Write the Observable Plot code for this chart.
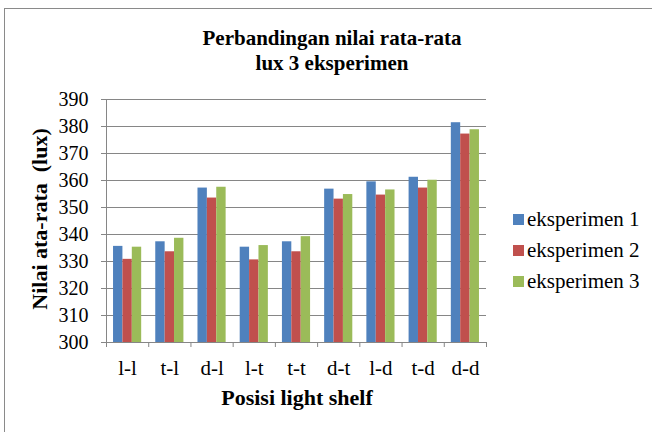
<!DOCTYPE html>
<html><head><meta charset="utf-8">
<script src="https://cdn.jsdelivr.net/npm/d3@7"></script>
<script src="https://cdn.jsdelivr.net/npm/@observablehq/plot@0.6"></script>
<style>
body{margin:0;background:#fff;}
#wrap{position:relative;width:652px;height:432px;overflow:hidden;font-family:"Liberation Serif","Times New Roman",serif;color:#000;}
#box{position:absolute;left:4px;top:8px;width:700px;height:500px;border:1px solid #8a8a8a;box-sizing:border-box;}
#chart{position:absolute;left:0;top:0;}
#title{position:absolute;left:0;width:664px;top:26px;text-align:center;font-weight:bold;font-size:21px;line-height:25px;}
#ylab{position:absolute;left:40px;top:219px;transform:translate(-50%,-50%) rotate(-90deg);white-space:nowrap;font-weight:bold;font-size:22px;}
#xlab{position:absolute;left:297px;top:398px;transform:translate(-50%,-50%);white-space:nowrap;font-weight:bold;font-size:22px;}
#legend{position:absolute;left:513px;top:204px;font-size:21px;}
.li{display:flex;align-items:center;height:31px;}
.sw{width:11px;height:11px;margin-right:3px;}
</style></head>
<body>
<div id="wrap">
  <div id="box"></div>
  <div id="chart"></div>
  <div id="title">Perbandingan nilai rata-rata<br>lux 3 eksperimen</div>
  <div id="ylab">Nilai ata-rata&nbsp; (lux)</div>
  <div id="xlab">Posisi light shelf</div>
  <div id="legend"></div>
</div>
<script>
const categories = ["l-l","t-l","d-l","l-t","t-t","d-t","l-d","t-d","d-d"];
const seriesNames = ["eksperimen 1","eksperimen 2","eksperimen 3"];
const eksperimen1 = [335.6,337.3,357.2,335.3,337.3,356.8,359.5,361.2,381.4];
const eksperimen2 = [330.8,333.6,353.5,330.6,333.6,353.1,354.6,357.2,377.2];
const eksperimen3 = [335.3,338.6,357.5,335.9,339.2,354.8,356.5,360.1,378.8];
const yTicks = [300,310,320,330,340,350,360,370,380,390];
const colors = ["#4F81BD","#C0504D","#9BBB59"];

const W = 652, H = 432, mL = 106, mR = 166, mT = 99, mB = 90;
const bw = (W - mL - mR) / categories.length;
const barW = bw / 4.5;
const inset = (bw - barW) / 2;

const seriesVals = [eksperimen1, eksperimen2, eksperimen3];
const barMarks = seriesVals.map((vals, s) =>
  Plot.barY(categories.map((c, i) => ({pos: c, v: vals[i]})), {
    x: "pos", y1: 300, y2: "v", fill: colors[s],
    insetLeft: inset, insetRight: inset, dx: (s - 1) * barW
  })
);

const plot = Plot.plot({
  width: W, height: H,
  marginLeft: mL, marginRight: mR, marginTop: mT, marginBottom: mB,
  style: {fontFamily: '"Liberation Serif","Times New Roman",serif', background: "transparent", color: "#000"},
  x: {domain: categories, padding: 0, round: false, label: null},
  y: {domain: [300, 390], label: null},
  marks: [
    Plot.gridY(yTicks, {stroke: "#868686", strokeOpacity: 1}),
    ...barMarks,
    Plot.frame({anchor: "left", stroke: "#868686"}),
    Plot.frame({anchor: "bottom", stroke: "#868686"}),
    Plot.axisY(yTicks, {tickSize: 5, tickPadding: 13, fontSize: 20, stroke: "#868686", tickFormat: d => String(d), label: null}),
    Plot.axisX({tickSize: 0, tickPadding: 18, fontSize: 21, label: null}),
    Plot.axisX({tickSize: 5, text: null, dx: -bw / 2, stroke: "#868686", label: null}),
    Plot.axisX([categories[categories.length - 1]], {tickSize: 5, text: null, dx: bw / 2, stroke: "#868686", label: null})
  ]
});
document.getElementById("chart").appendChild(plot);

const leg = document.getElementById("legend");
seriesNames.forEach((n, i) => {
  const row = document.createElement("div");
  row.className = "li";
  const sw = document.createElement("div");
  sw.className = "sw"; sw.style.background = colors[i];
  row.appendChild(sw);
  row.appendChild(document.createTextNode(n));
  leg.appendChild(row);
});
</script>
</body></html>
